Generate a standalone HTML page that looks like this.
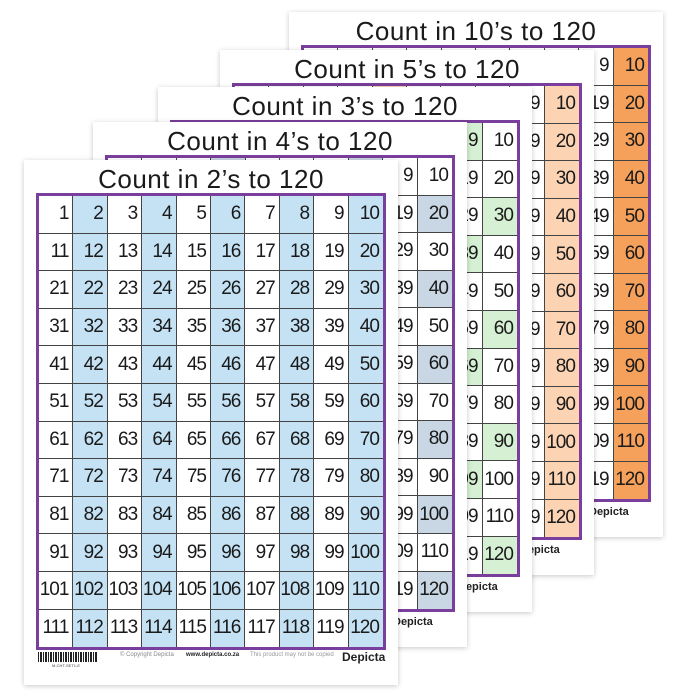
<!DOCTYPE html>
<html><head><meta charset="utf-8"><style>
body{margin:0;width:698px;height:700px;background:#fff;position:relative;overflow:hidden;font-family:"Liberation Sans",sans-serif}
.card{position:absolute;width:374px;height:525px;background:#fff;box-shadow:0 1px 5px rgba(0,0,0,.22)}
.title{position:absolute;left:0;width:374px;top:4px;text-align:center;font-size:26px;color:#1a1a1a;letter-spacing:.5px}
.grid{position:absolute;left:12px;top:33px;border:3px solid #7a3e9c;display:grid;grid-template-columns:repeat(10,34.4px);grid-template-rows:repeat(12,37.6px)}
.grid div{border-right:1px solid #444;border-bottom:1px solid #444;box-sizing:border-box;font-size:19px;color:#1a1a1a;display:flex;align-items:center;justify-content:flex-end;padding-right:4px;letter-spacing:-1px}
.grid div:nth-child(10n){border-right:none}
.grid div:nth-last-child(-n+10){border-bottom:none}
.dep{position:absolute;font-weight:bold;font-size:11px;color:#222}
</style></head><body>
<div id="root"></div>
<script>
var sheets=[
 {x:289,y:12,t:"Count in 10’s to 120",m:10,c:"#f6a15b"},
 {x:220,y:50,t:"Count in 5’s to 120",m:5,c:"#fcd4b4"},
 {x:158,y:87,t:"Count in 3’s to 120",m:3,c:"#d5f0d2"},
 {x:93,y:122,t:"Count in 4’s to 120",m:4,c:"#c9d6e4"},
 {x:24,y:160,t:"Count in 2’s to 120",m:2,c:"#c4e2f4"}
];
var h="";
sheets.forEach(function(s,i){
 h+='<div class="card" style="left:'+s.x+'px;top:'+s.y+'px;z-index:'+i+'"><div class="title">'+s.t+'</div><div class="grid">';
 for(var n=1;n<=120;n++){h+='<div'+(n%s.m==0?' style="background:'+s.c+'"':'')+'>'+n+'</div>';}
 h+='</div>';
 if(i<4){h+='<div class="dep" style="left:300px;top:494px">Depicta</div>';}
 else{
  h+='<div style="position:absolute;left:14px;top:492px;width:60px;height:10px;background:repeating-linear-gradient(90deg,#222 0 1px,#fff 1px 2px,#222 2px 4px,#fff 4px 5px)"></div>';
  h+='<div style="position:absolute;left:28px;top:503px;font-size:4px;color:#444">M-CHT-SET1-E</div>';
  h+='<div style="position:absolute;left:96px;top:492px;font-size:6px;color:#888">© Copyright Depicta</div>';
  h+='<div style="position:absolute;left:162px;top:492px;font-size:6px;color:#222;font-weight:bold">www.depicta.co.za</div>';
  h+='<div style="position:absolute;left:226px;top:492px;font-size:6px;color:#999">This product may not be copied</div>';
  h+='<div class="dep" style="left:318px;top:490px;font-size:12px">Depicta</div>';
 }
 h+='</div>';
});
document.getElementById("root").innerHTML=h;
</script>
</body></html>
